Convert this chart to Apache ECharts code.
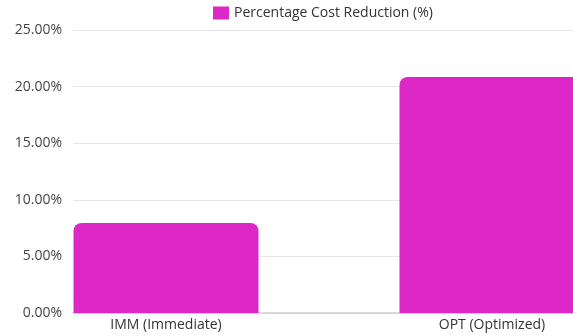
<!DOCTYPE html>
<html>
<head>
<meta charset="utf-8">
<script src="https://cdn.jsdelivr.net/npm/echarts@6/dist/echarts.min.js"></script>
<style>
  html, body { margin: 0; padding: 0; background: #fff; overflow: hidden; }
  #wrap { width: 573px; height: 336px; overflow: hidden; }
  #chart { width: 655px; height: 336px; }
</style>
</head>
<body>
<div id="wrap"><div id="chart"></div></div>
<script>
// Cost reduction by scheduling strategy
const categories = ['IMM (Immediate)', 'OPT (Optimized)'];
const reductionPct = [7.95, 20.85];
const seriesName = 'Percentage Cost Reduction (%)';
const yMin = 0, yMax = 25, yStep = 5;

const FONT = '"Open Sans", sans-serif';
const BAR_COLOR = '#dd27c6';

const chart = echarts.init(document.getElementById('chart'));
chart.setOption({
  animation: false,
  textStyle: { fontFamily: FONT },
  legend: {
    left: 213, top: 6, padding: 0,
    itemWidth: 16, itemHeight: 13, itemGap: 8,
    icon: 'rect',
    textStyle: { fontFamily: FONT, fontSize: 14, color: '#333' },
    data: [seriesName]
  },
  grid: [
    // value scale, gridlines and axis labels
    { left: 73, right: 0, top: 30, bottom: 23 },
    // bars
    { left: 3, right: 0, top: 30, bottom: 23 }
  ],
  xAxis: [
    {
      gridIndex: 0, type: 'category', data: categories,
      axisLine: { show: true, lineStyle: { color: '#cfcfcf', width: 1.5 } },
      axisTick: { show: false }, axisLabel: { show: false }
    },
    {
      gridIndex: 1, type: 'category', data: categories,
      axisLine: { show: false }, axisTick: { show: false },
      axisLabel: { margin: 5, fontFamily: FONT, fontSize: 14, color: '#333' }
    }
  ],
  yAxis: [
    {
      gridIndex: 0, type: 'value', min: yMin, max: yMax, interval: yStep,
      axisLine: { show: false }, axisTick: { show: false },
      axisLabel: {
        margin: 11, fontFamily: FONT, fontSize: 14, color: '#444',
        formatter: v => v.toFixed(2) + '%'
      },
      splitLine: { lineStyle: { color: '#e6e6e6', width: 1 } }
    },
    {
      gridIndex: 1, type: 'value', min: yMin, max: yMax, interval: yStep,
      show: false
    }
  ],
  series: [{
    name: seriesName,
    type: 'bar',
    xAxisIndex: 1, yAxisIndex: 1,
    data: reductionPct,
    barWidth: 185,
    itemStyle: { color: BAR_COLOR, borderRadius: [8, 8, 0, 0] }
  }]
});
</script>
</body>
</html>
